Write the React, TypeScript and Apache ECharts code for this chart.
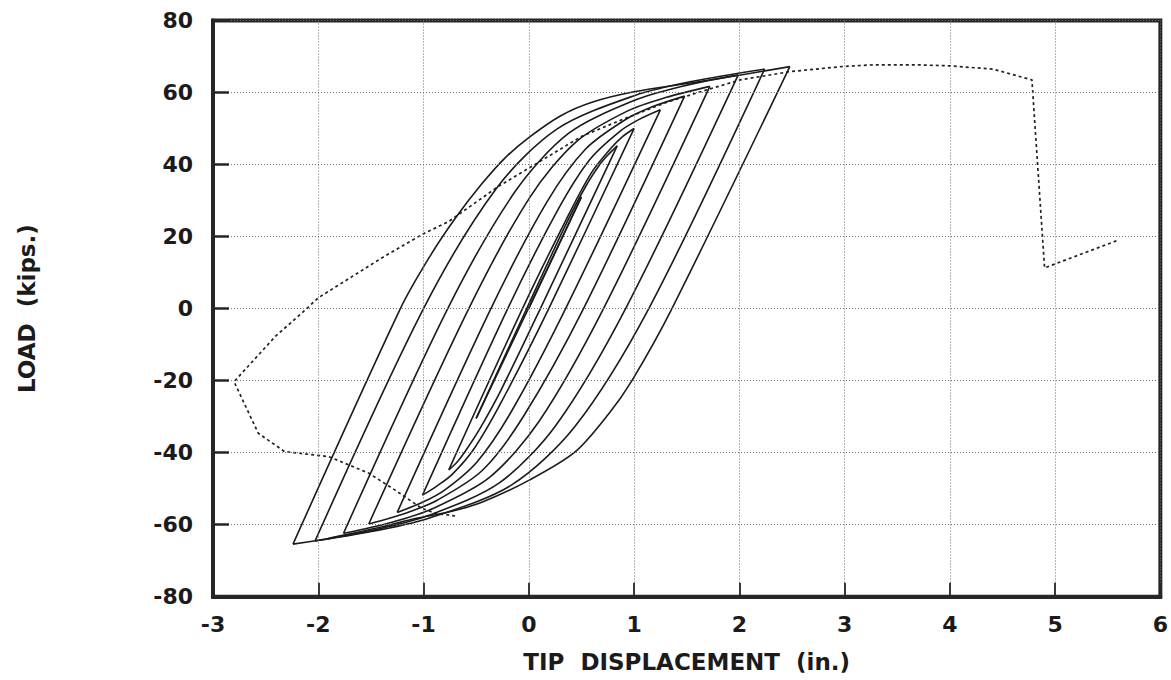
import React, { useEffect, useRef } from "react";
import * as echarts from "echarts";

// Axis ranges / ticks
const xMin = -3;
const xMax = 6;
const xStep = 1;
const yMin = -80;
const yMax = 80;
const yStep = 20;

const xName = "TIP  DISPLACEMENT  (in.)";
const yName = "LOAD  (kips.)";

// Cyclic test: branches in load order  [displacement (in.), load (kips)]
const load0 = [[0, 0], [0.5, 31.0]];
const unload1 = [[0.5, 31.0], [-0.5, -30.5]];
const reload1 = [[-0.5, -30.5], [-0.02, 0], [0.34, 22.6], [0.54, 33.9], [0.68, 40.2], [0.76, 42.9], [0.84, 45.2]];
const unload2 = [[0.84, 45.2], [0.11, 0], [-0.26, -22.4], [-0.47, -33.6], [-0.61, -39.9], [-0.68, -42.6], [-0.76, -44.8]];
const reload2 = [[-0.76, -44.8], [-0.06, 0], [0.36, 25], [0.59, 37.5], [0.78, 44.5], [0.88, 47.5], [1.0, 50]];
const unload3 = [[1.0, 50], [0.19, 0], [-0.26, -25.9], [-0.52, -38.9], [-0.73, -46.1], [-0.87, -49.2], [-1.01, -51.8]];
const reload3 = [[-1.01, -51.8], [-0.2, 0], [0.28, 27.6], [0.58, 41.4], [0.86, 49.1], [1.04, 52.4], [1.25, 55.2]];
const unload4 = [[1.25, 55.2], [0.35, 0], [-0.16, -28.3], [-0.49, -42.5], [-0.8, -50.4], [-1.01, -53.8], [-1.25, -56.6]];
const reload4 = [[-1.25, -56.6], [-0.36, 0], [0.17, 29.5], [0.54, 44.3], [0.92, 52.5], [1.18, 56.1], [1.48, 59.0]];
const unload5 = [[1.48, 59.0], [0.52, 0], [-0.05, -29.9], [-0.44, -44.9], [-0.87, -53.2], [-1.17, -56.8], [-1.52, -59.8]];
const reload5 = [[-1.52, -59.8], [-0.57, 0], [0.01, 30.9], [0.45, 46.3], [0.94, 54.9], [1.3, 58.6], [1.72, 61.7]];
const unload6 = [[1.72, 61.7], [0.71, 0], [0.1, -31.2], [-0.37, -46.8], [-0.91, -55.5], [-1.3, -59.3], [-1.76, -62.4]];
const reload6 = [[-1.76, -62.4], [-0.77, 0], [-0.13, 32.5], [0.38, 48.7], [1.0, 57.8], [1.45, 61.7], [1.99, 64.9]];
const unload7 = [[1.99, 64.9], [0.92, 0], [0.26, -32.3], [-0.28, -48.4], [-0.95, -57.4], [-1.44, -61.3], [-2.03, -64.5]];
const reload7 = [[-2.03, -64.5], [-1.0, 0], [-0.31, 33.3], [0.27, 49.9], [1.01, 59.2], [1.57, 63.2], [2.24, 66.5]];
const unload8 = [[2.24, 66.5], [1.14, 0], [0.44, -32.7], [-0.17, -49.1], [-0.95, -58.2], [-1.53, -62.1], [-2.24, -65.4]];
const reload8 = [[-2.24, -65.4], [-1.22, 0], [-0.95, 14], [-0.7, 25], [-0.45, 34.5], [-0.22, 42], [0, 47.5], [0.3, 53.5], [0.6, 57.3], [1.0, 60.2], [1.5, 62.5], [2.0, 64.8], [2.48, 67.2]];
const unload9 = [[2.48, 67.2], [1.36, 0], [0.98, -20], [0.76, -29.2], [0.44, -39.8], [0, -47.7], [-0.44, -53.7], [-0.76, -56.5], [-1.08, -58.3], [-1.39, -60.6], [-1.9, -63.8]];

// Monotonic test (dashed)
const monotonic = [
  [-0.7, -57.6], [-0.89, -56.8], [-1.02, -55.4], [-1.27, -50.4], [-1.52, -45.7], [-1.9, -41.1],
  [-2.32, -39.7], [-2.57, -34.6], [-2.8, -20.3], [-2.41, -7.8], [-2.11, 0], [-2.0, 3.0],
  [-1.4, 14], [-1.02, 20.5], [-0.76, 24.2], [-0.29, 33.9], [0, 39], [0.5, 47.8], [0.88, 52.4],
  [1.3, 57.2], [1.72, 61], [2.01, 63.5], [2.48, 65.8], [2.97, 67.2], [3.27, 67.7], [3.68, 67.7],
  [4.0, 67.4], [4.41, 66.5], [4.78, 63.5], [4.9, 11.3], [5.59, 18.9],
];

const cyclicBranches = [
  load0, unload1, reload1, unload2, reload2, unload3, reload3, unload4, reload4,
  unload5, reload5, unload6, reload6, unload7, reload7, unload8, reload8, unload9,
];

const FONT = "DejaVu Sans";
const INK = "#1b1b1b";
const FRAME = "#262626";

export default function App() {
  const ref = useRef<HTMLDivElement>(null);

  useEffect(() => {
    if (!ref.current) return;
    const chart = echarts.init(ref.current, undefined, { renderer: "svg" });

    const series: any[] = cyclicBranches.map((d) => ({
      type: "line",
      data: d,
      showSymbol: false,
      symbol: "none",
      smooth: 0.3,
      silent: true,
      lineStyle: { color: INK, width: 1.6 },
      z: 3,
    }));
    series.push({
      type: "line",
      data: monotonic,
      showSymbol: false,
      symbol: "none",
      smooth: false,
      silent: true,
      lineStyle: { color: "#222", width: 1.7, type: [3, 3] },
      z: 2,
    });

    const gridLine = { color: "#6f6f6f", type: [1, 2], width: 1 };

    const baseAxis = {
      type: "value",
      axisLine: { show: true, onZero: false, lineStyle: { color: FRAME, width: 4 } },
      splitLine: { show: true, lineStyle: gridLine },
    };

    chart.setOption({
      animation: false,
      backgroundColor: "#ffffff",
      grid: {
        left: 213,
        right: 10,
        top: 20.5,
        bottom: 83.3,
        show: true,
        borderColor: FRAME,
        borderWidth: 4,
        backgroundColor: "transparent",
      },
      xAxis: {
        ...baseAxis,
        min: xMin,
        max: xMax,
        interval: xStep,
        axisTick: { show: true, inside: true, length: 14, lineStyle: { color: FRAME, width: 1.8 } },
        axisLabel: { color: INK, fontSize: 22, fontWeight: "bold", fontFamily: FONT, margin: 17 },
        name: xName,
        nameLocation: "middle",
        nameGap: 54,
        nameTextStyle: { color: INK, fontSize: 23, fontWeight: "bold", fontFamily: FONT },
        z: 5,
      },
      yAxis: {
        ...baseAxis,
        min: yMin,
        max: yMax,
        interval: yStep,
        axisTick: { show: true, inside: true, length: 16, lineStyle: { color: FRAME, width: 2.5 } },
        axisLabel: { color: INK, fontSize: 22, fontWeight: "bold", fontFamily: FONT, margin: 20 },
        name: yName,
        nameLocation: "middle",
        nameGap: 175,
        nameTextStyle: { color: INK, fontSize: 23, fontWeight: "bold", fontFamily: FONT },
        z: 5,
      },
      series,
    });

    return () => chart.dispose();
  }, []);

  return (
    <div
      ref={ref}
      style={{ position: "absolute", left: 0, top: 0, width: 1171, height: 680, background: "#fff" }}
    />
  );
}
